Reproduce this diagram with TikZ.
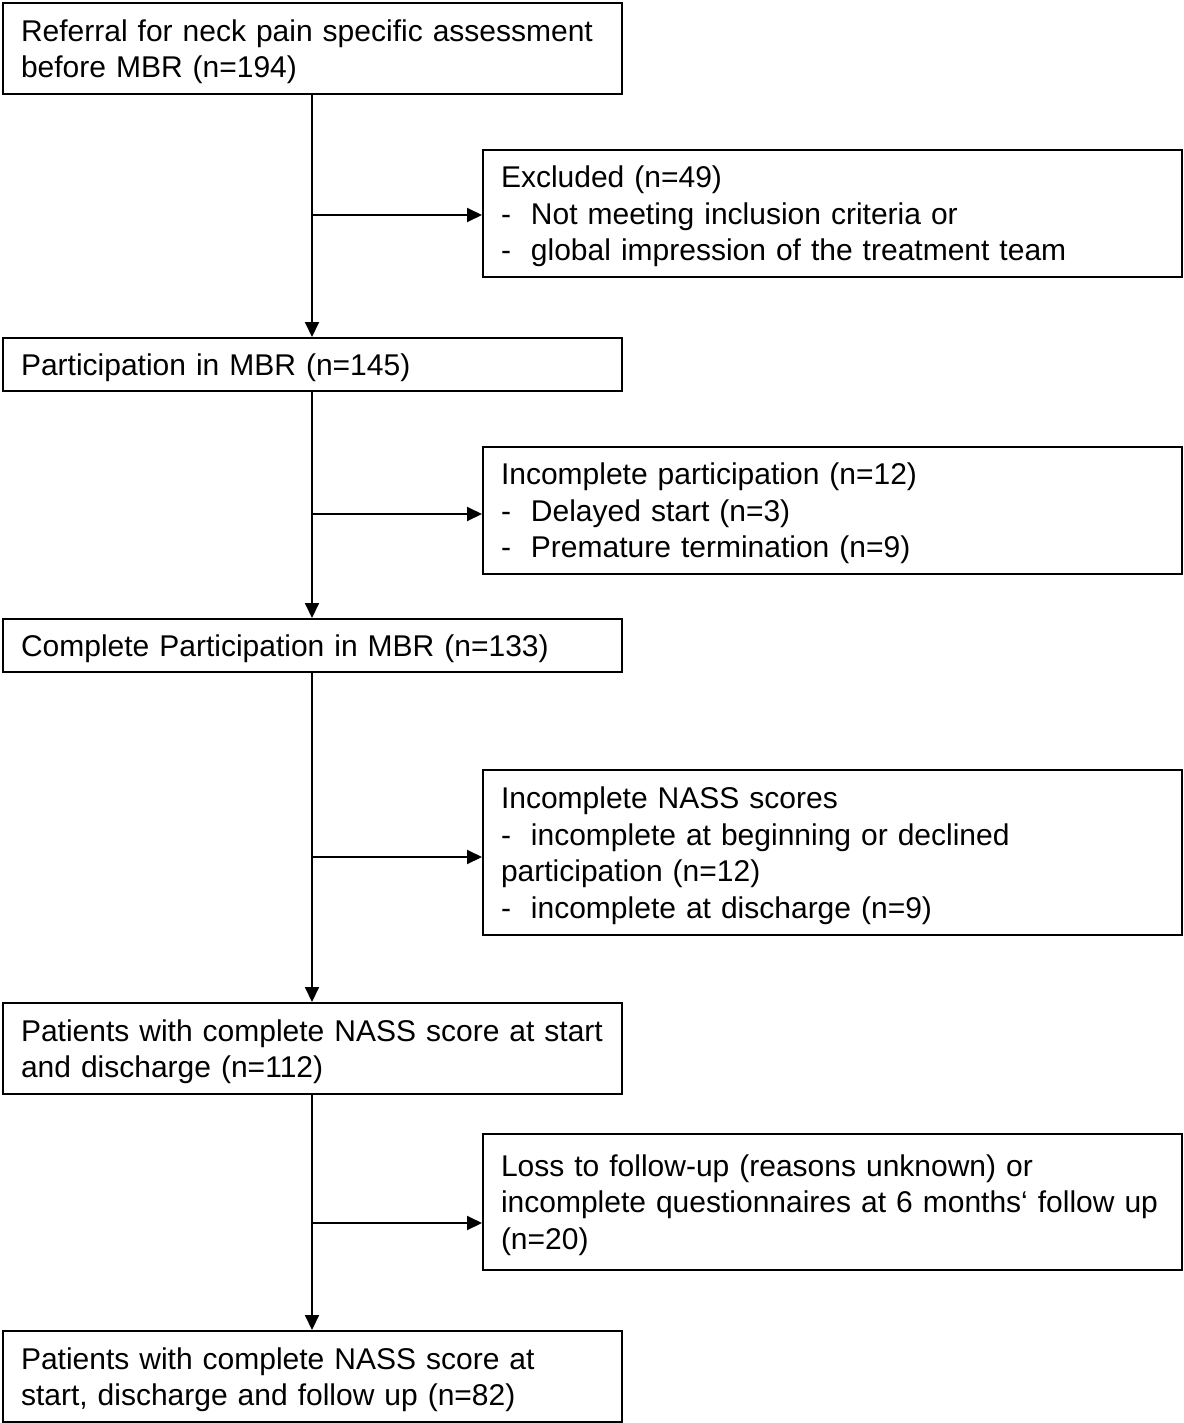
\documentclass[tikz,border=0pt]{standalone}
\usepackage{fontspec}
\setmainfont{Liberation Sans}
\usetikzlibrary{arrows.meta}
\begin{document}
\begin{tikzpicture}[x=1pt,y=-1pt,
  box/.style={draw,line width=2pt,anchor=north west,align=left,inner xsep=18pt,inner ysep=0pt,
    font=\fontsize{30}{36.5}\selectfont,
    execute at begin node={\rule{0pt}{28pt}},
    execute at end node={\rule[-6.4pt]{0pt}{6.4pt}}},
  lbox/.style={box,minimum width=619pt,text width=583pt},
  rbox/.style={box,minimum width=699pt,text width=663pt},
  conn/.style={line width=2pt,-{Triangle[length=15pt,width=14pt]}}]
\useasboundingbox (0,0) rectangle (1183,1423);
\node[lbox,minimum height=91pt] (b1) at (2,2) {Referral for neck pain specific assessment\\before MBR (n=194)};
\node[lbox,minimum height=53pt] (b2) at (2,337) {Participation in MBR (n=145)};
\node[lbox,minimum height=53pt] (b3) at (2,618) {Complete Participation in MBR (n=133)};
\node[lbox,minimum height=91pt] (b4) at (2,1002) {Patients with complete NASS score at start\\and discharge (n=112)};
\node[lbox,minimum height=91pt] (b5) at (2,1330) {Patients with complete NASS score at\\start, discharge and follow up (n=82)};
\node[rbox,minimum height=127pt] (r1) at (482,149) {Excluded (n=49)\\-\ \ Not meeting inclusion criteria or\\-\ \ global impression of the treatment team};
\node[rbox,minimum height=127pt] (r2) at (482,446) {Incomplete participation (n=12)\\-\ \ Delayed start (n=3)\\-\ \ Premature termination (n=9)};
\node[rbox,minimum height=165pt] (r3) at (482,769) {Incomplete NASS scores\\-\ \ incomplete at beginning or declined\\participation (n=12)\\-\ \ incomplete at discharge (n=9)};
\node[rbox,minimum height=136pt] (r4) at (482,1133) {Loss to follow-up (reasons unknown) or\\incomplete questionnaires at 6 months‘ follow up\\(n=20)};
\coordinate (t1) at (312,93);
\coordinate (t2) at (312,390);
\coordinate (t3) at (312,671);
\coordinate (t4) at (312,1093);
\coordinate (j1) at (312,215);
\coordinate (j2) at (312,514);
\coordinate (j3) at (312,857);
\coordinate (j4) at (312,1223);
\draw[conn] (t1) -- (t1 |- b2.north);
\draw[conn] (t2) -- (t2 |- b3.north);
\draw[conn] (t3) -- (t3 |- b4.north);
\draw[conn] (t4) -- (t4 |- b5.north);
\draw[conn] (j1) -- (j1 -| r1.west);
\draw[conn] (j2) -- (j2 -| r2.west);
\draw[conn] (j3) -- (j3 -| r3.west);
\draw[conn] (j4) -- (j4 -| r4.west);
\end{tikzpicture}
\end{document}
